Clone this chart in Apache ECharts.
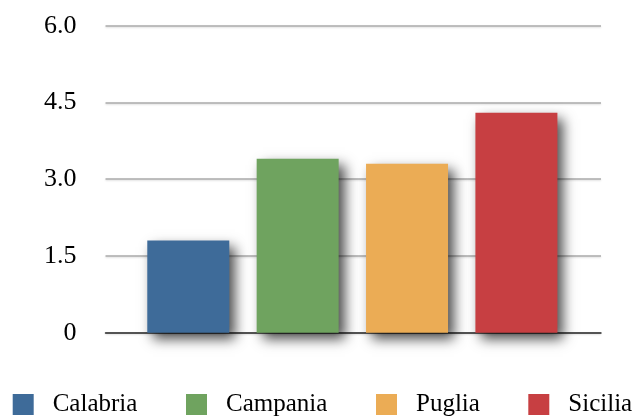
<!DOCTYPE html>
<html><head><meta charset="utf-8">
<script src="https://cdn.jsdelivr.net/npm/echarts@6/dist/echarts.min.js"></script>
<style>html,body{margin:0;padding:0;background:#fff}#c{width:634px;height:416px}</style>
</head><body><div id="c"></div>
<script>
const categories = ['Calabria', 'Campania', 'Puglia', 'Sicilia'];
const values = [1.8, 3.4, 3.3, 4.3];
const yTickLabels = ['0', '1.5', '3.0', '4.5', '6.0'];
const colors = ['#3e6b99', '#6fa35f', '#ebac55', '#c73f42'];
const legendLeft = [12.7, 186, 376, 528.3];

const font = '"Liberation Serif", "DejaVu Serif", serif';
const chart = echarts.init(document.getElementById('c'), null, {renderer: 'canvas'});

const series = categories.map((name, i) => ({
  name: name,
  type: 'bar',
  xAxisIndex: 1,
  yAxisIndex: 1,
  barWidth: 82,
  barGap: '-100%',
  data: categories.map((c, j) => j === i ? values[i] : '-'),
  itemStyle: {
    color: colors[i],
    shadowColor: 'rgba(0,0,0,0.7)',
    shadowBlur: 12,
    shadowOffsetX: 6,
    shadowOffsetY: 6
  }
}));

chart.setOption({
  animation: false,
  color: colors,
  grid: [
    {left: 105.5, right: 33, top: 25.7, bottom: 83.3},
    {left: 133.6, width: 437.5, top: 25.7, bottom: 83.3}
  ],
  xAxis: [
    {type: 'category', gridIndex: 0, data: categories, show: true,
     axisLine: {show: true, lineStyle: {color: '#333', width: 1.5}},
     axisTick: {show: false}, axisLabel: {show: false}},
    {type: 'category', gridIndex: 1, data: categories, show: false}
  ],
  yAxis: [
    {type: 'value', gridIndex: 0, min: 0, max: 6, interval: 1.5,
     axisLine: {show: false}, axisTick: {show: false},
     axisLabel: {margin: 29, color: '#000', fontFamily: font, fontSize: 26,
       formatter: (v, i) => yTickLabels[i]},
     splitLine: {lineStyle: {color: '#aaaaaa', width: 1.5,
       shadowColor: 'rgba(0,0,0,0.15)', shadowBlur: 2, shadowOffsetY: 1}}},
    {type: 'value', gridIndex: 1, min: 0, max: 6, interval: 1.5, show: false}
  ],
  legend: categories.map((name, i) => ({
    data: [name],
    left: legendLeft[i],
    top: 392,
    padding: 0,
    icon: 'rect',
    itemWidth: 21,
    itemHeight: 21,
    itemStyle: {shadowBlur: 0, shadowOffsetX: 0, shadowOffsetY: 0},
    textStyle: {fontFamily: font, fontSize: 25, color: '#000', padding: [5, 0, 0, 14]}
  })),
  series: series
});
</script>
</body></html>
